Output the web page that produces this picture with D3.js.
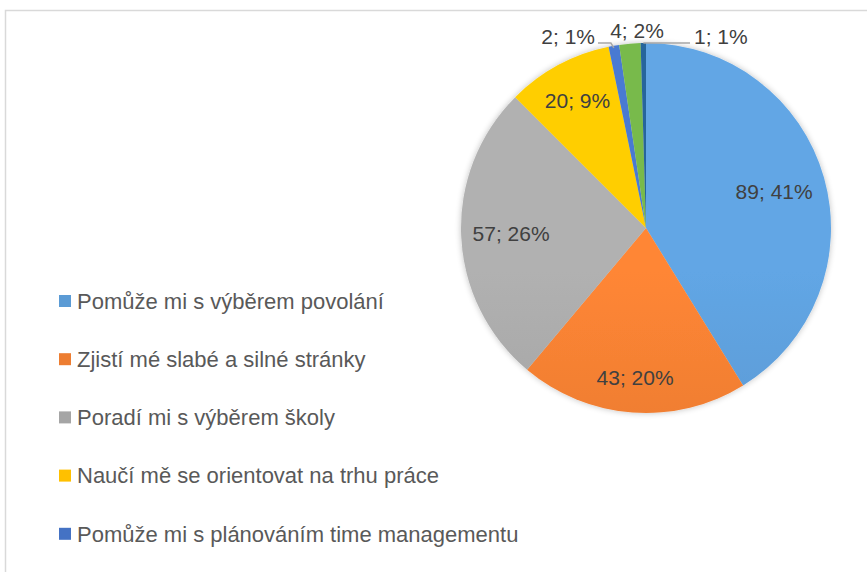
<!DOCTYPE html>
<html lang="cs">
<head>
    <meta charset="UTF-8">
    <title>Pie chart</title>
    <script src="https://d3js.org/d3.v7.min.js"></script>
    <style>
        body {
            margin: 0;
            background: #fff;
            font-family: "Liberation Sans", Arial, sans-serif;
        }
        .label {
            font-size: 21px;
            fill: #404040;
        }
        .legend text {
            font-size: 22px;
            fill: #595959;
        }
        .leader {
            fill: none;
            stroke: #a6a6a6;
            stroke-width: 1.5px;
        }
    </style>
</head>
<body>
    <div id="chart"></div>

    <script>
        // data (clockwise from 12 o'clock)
        const categories = [
            "Pomůže mi s výběrem povolání",
            "Zjistí mé slabé a silné stránky",
            "Poradí mi s výběrem školy",
            "Naučí mě se orientovat na trhu práce",
            "Pomůže mi s plánováním time managementu",
            "Jiné",
            "Nevím"
        ];
        const values = [89, 43, 57, 20, 2, 4, 1];
        const percents = ["41%", "20%", "26%", "9%", "1%", "2%", "1%"];
        const colors = ["#5b9bd5", "#ed7d31", "#a5a5a5", "#ffc000", "#4472c4", "#70ad47", "#255e91"];
        const legendCount = 5; // only first five fit in the legend

        const width = 867;
        const height = 572;
        const cx = 646, cy = 228, R = 185;

        const svg = d3.select("#chart")
            .append("svg")
            .attr("width", width)
            .attr("height", height);

        // chart frame
        svg.append("rect")
            .attr("x", 5.5).attr("y", 10.5)
            .attr("width", width + 20).attr("height", height + 20)
            .attr("fill", "none")
            .attr("stroke", "#d9d9d9")
            .attr("stroke-width", 1.5);

        const defs = svg.append("defs");
        colors.forEach((c, i) => {
            const gr = defs.append("linearGradient")
                .attr("id", "grad" + i)
                .attr("gradientUnits", "userSpaceOnUse")
                .attr("x1", 0).attr("y1", cy - R)
                .attr("x2", 0).attr("y2", cy + R);
            gr.append("stop").attr("offset", 0).attr("stop-color", d3.color(c).brighter(0.2));
            gr.append("stop").attr("offset", 1).attr("stop-color", d3.color(c).darker(0.25));
        });
        const shadow = defs.append("filter").attr("id", "shadow")
            .attr("x", -0.1).attr("y", -0.1).attr("width", 1.2).attr("height", 1.2);
        shadow.append("feGaussianBlur").attr("in", "SourceAlpha").attr("stdDeviation", 3);
        shadow.append("feComponentTransfer").append("feFuncA").attr("type", "linear").attr("slope", 0.25);
        const merge = shadow.append("feMerge");
        merge.append("feMergeNode");
        merge.append("feMergeNode").attr("in", "SourceGraphic");

        const pie = d3.pie().sort(null).value(d => d)(values);
        const arc = d3.arc().innerRadius(0).outerRadius(R);

        const g = svg.append("g")
            .attr("transform", `translate(${cx},${cy})`);

        g.append("g").attr("filter", "url(#shadow)")
            .selectAll("path")
            .data(pie)
            .enter()
            .append("path")
            .attr("d", arc)
            .attr("fill", (d, i) => `url(#grad${i})`);

        // labels inside the big slices
        const innerR = [0.72, 0.81, 0.73, 0.78];
        pie.slice(0, 4).forEach((d, i) => {
            const a = (d.startAngle + d.endAngle) / 2;
            const r = R * innerR[i];
            g.append("text")
                .attr("class", "label")
                .attr("x", Math.sin(a) * r)
                .attr("y", -Math.cos(a) * r)
                .attr("dy", "0.35em")
                .attr("text-anchor", "middle")
                .text(`${values[i]}; ${percents[i]}`);
        });

        // small slices: labels above the pie
        const small = [
            { i: 4, dx: -51, dy: -R + 1, anchor: "end" },
            { i: 5, dx: -9, dy: -R - 5, anchor: "middle" },
            { i: 6, dx: 48, dy: -R + 1, anchor: "start" }
        ];
        small.forEach(s => {
            const d = pie[s.i];
            const a = (d.startAngle + d.endAngle) / 2;
            const ex = Math.sin(a) * R, ey = -Math.cos(a) * R;
            g.append("text")
                .attr("class", "label")
                .attr("x", s.dx)
                .attr("y", s.dy)
                .attr("text-anchor", s.anchor)
                .text(`${values[s.i]}; ${percents[s.i]}`);
            if (s.i === 4) {
                g.append("path").attr("class", "leader")
                    .attr("d", `M${s.dx + 3},${-R}H${ex - 3}L${ex},${ey + 2}`);
            }
            if (s.i === 6) {
                g.append("path").attr("class", "leader")
                    .attr("d", `M${s.dx - 4},${-R}H${ex}`);
            }
        });

        // legend
        const legend = svg.append("g").attr("class", "legend")
            .attr("transform", "translate(59,301)");
        const item = legend.selectAll("g")
            .data(categories.slice(0, legendCount))
            .enter()
            .append("g")
            .attr("transform", (d, i) => `translate(0,${i * 58.2})`);
        item.append("rect")
            .attr("x", 0).attr("y", -6)
            .attr("width", 12).attr("height", 12)
            .attr("fill", (d, i) => colors[i]);
        item.append("text")
            .attr("x", 18)
            .attr("dy", "0.35em")
            .text(d => d);
    </script>
</body>
</html>
